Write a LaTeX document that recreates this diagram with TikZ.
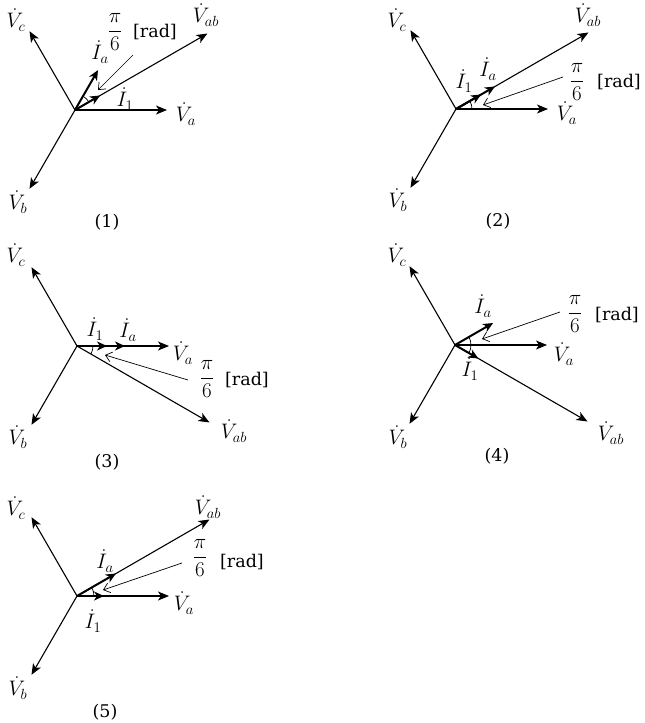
\RequirePackage{fix-cm}
\documentclass[tikz,border=0pt]{standalone}
\usepackage{fontspec}
\newfontfamily\dvserif{DejaVu Serif}
\usetikzlibrary{arrows.meta}
\begin{document}
\begin{tikzpicture}[x=1pt,y=1pt,
  vec/.style={line width=1.1pt,-{Stealth[length=11pt,width=9pt,inset=3pt]}},
  cur/.style={line width=2pt,-{Stealth[length=10pt,width=9pt,inset=3pt]}},
  note/.style={line width=0.7pt,-{Straight Barb[length=6pt,width=10pt]}},
  ang/.style={line width=0.7pt},
  lab/.style={inner sep=0pt,font=\fontsize{21}{25}\selectfont},
  txt/.style={inner sep=0pt,font=\dvserif\fontsize{17.5}{21}\selectfont},
]
\useasboundingbox (0,0) rectangle (645,-723);

% ---------- Panel 1 ----------
\coordinate (O1) at (75,-110);
\path (O1) ++(0:92) coordinate (Va1);
\path (O1) ++(120:91) coordinate (Vc1);
\path (O1) ++(240:91) coordinate (Vb1);
\path (O1) ++(30:153) coordinate (Vab1);
\path (O1) ++(60:46) coordinate (Ia1);
\path (O1) ++(30:29) coordinate (Ione1);
\coordinate (n1s) at (133,-55);
\coordinate (n1e) at (98,-90);
\draw[vec] (O1) -- (Va1);
\draw[vec] (O1) -- (Vc1);
\draw[vec] (O1) -- (Vb1);
\draw[vec] (O1) -- (Vab1);
\draw[cur] (O1) -- (Ia1);
\draw[cur] (O1) -- (Ione1);
\draw[ang] (O1) ++(30:16) arc[start angle=30,end angle=60,radius=16];
\draw[note] (n1s) -- (n1e);
\node[lab] (lVc1) at (16,-20) {$\dot{V}_c$};
\node[lab] (lVab1) at (206,-15) {$\dot{V}_{ab}$};
\node[lab] (lf1) at (115,-32) {$\displaystyle\frac{\pi}{6}$};
\node[txt] (lr1) at (155,-32) {[rad]};
\node[lab] (lIa1) at (100,-52) {$\dot{I}_a$};
\node[lab] (lI11) at (125,-99) {$\dot{I}_1$};
\node[lab] (lVa1) at (186,-114) {$\dot{V}_a$};
\node[lab] (lVb1) at (18,-202) {$\dot{V}_b$};
\node[txt] (lc1) at (107,-222) {(1)};

% ---------- Panel 2 ----------
\coordinate (O2) at (456,-109);
\path (O2) ++(0:92) coordinate (Va2);
\path (O2) ++(120:91) coordinate (Vc2);
\path (O2) ++(240:91) coordinate (Vb2);
\path (O2) ++(30:153) coordinate (Vab2);
\path (O2) ++(30:45) coordinate (Ia2);
\path (O2) ++(30:29) coordinate (Ione2);
\coordinate (n2s) at (563,-77);
\coordinate (n2e) at (483,-105);
\draw[vec] (O2) -- (Va2);
\draw[vec] (O2) -- (Vc2);
\draw[vec] (O2) -- (Vb2);
\draw[vec] (O2) -- (Vab2);
\draw[cur] (O2) -- (Ia2);
\draw[cur] (O2) -- (Ione2);
\draw[ang] (O2) ++(0:16) arc[start angle=0,end angle=30,radius=16];
\draw[note] (n2s) -- (n2e);
\node[lab] (lVc2) at (397,-20) {$\dot{V}_c$};
\node[lab] (lVab2) at (588,-15) {$\dot{V}_{ab}$};
\node[lab] (lIa2) at (488,-69) {$\dot{I}_a$};
\node[lab] (lI12) at (464,-81) {$\dot{I}_1$};
\node[lab] (lf2) at (577,-82) {$\displaystyle\frac{\pi}{6}$};
\node[txt] (lr2) at (619,-82) {[rad]};
\node[lab] (lVa2) at (567,-113) {$\dot{V}_a$};
\node[lab] (lVb2) at (398,-200) {$\dot{V}_b$};
\node[txt] (lc2) at (498,-221) {(2)};

% ---------- Panel 3 ----------
\coordinate (O3) at (77,-346);
\path (O3) ++(0:92) coordinate (Va3);
\path (O3) ++(120:91) coordinate (Vc3);
\path (O3) ++(240:91) coordinate (Vb3);
\path (O3) ++(-30:153) coordinate (Vab3);
\path (O3) ++(0:48) coordinate (Ia3);
\path (O3) ++(0:30) coordinate (Ione3);
\coordinate (n3s) at (188,-380);
\coordinate (n3e) at (105,-355);
\draw[vec] (O3) -- (Va3);
\draw[vec] (O3) -- (Vc3);
\draw[vec] (O3) -- (Vb3);
\draw[vec] (O3) -- (Vab3);
\draw[cur] (O3) -- (Ia3);
\draw[cur] (O3) -- (Ione3);
\draw[ang] (O3) ++(-30:16) arc[start angle=-30,end angle=0,radius=16];
\draw[note] (n3s) -- (n3e);
\node[lab] (lVc3) at (16,-255) {$\dot{V}_c$};
\node[lab] (lI13) at (95,-329) {$\dot{I}_1$};
\node[lab] (lIa3) at (128,-330) {$\dot{I}_a$};
\node[lab] (lVa3) at (183,-353) {$\dot{V}_a$};
\node[lab] (lf3) at (207,-379) {$\displaystyle\frac{\pi}{6}$};
\node[txt] (lr3) at (247,-380) {[rad]};
\node[lab] (lVab3) at (234,-431) {$\dot{V}_{ab}$};
\node[lab] (lVb3) at (18,-437) {$\dot{V}_b$};
\node[txt] (lc3) at (107,-462) {(3)};

% ---------- Panel 4 ----------
\coordinate (O4) at (455,-345);
\path (O4) ++(0:92) coordinate (Va4);
\path (O4) ++(120:91) coordinate (Vc4);
\path (O4) ++(240:91) coordinate (Vb4);
\path (O4) ++(-30:153) coordinate (Vab4);
\path (O4) ++(30:44) coordinate (Ia4);
\path (O4) ++(-30:27) coordinate (Ione4);
\coordinate (n4s) at (560,-312);
\coordinate (n4e) at (482,-339);
\draw[vec] (O4) -- (Va4);
\draw[vec] (O4) -- (Vc4);
\draw[vec] (O4) -- (Vb4);
\draw[vec] (O4) -- (Vab4);
\draw[cur] (O4) -- (Ia4);
\draw[cur] (O4) -- (Ione4);
\draw[ang] (O4) ++(-30:16) arc[start angle=-30,end angle=30,radius=16];
\draw[note] (n4s) -- (n4e);
\node[lab] (lVc4) at (397,-255) {$\dot{V}_c$};
\node[lab] (lIa4) at (483,-306) {$\dot{I}_a$};
\node[lab] (lf4) at (575,-314) {$\displaystyle\frac{\pi}{6}$};
\node[txt] (lr4) at (617,-315) {[rad]};
\node[lab] (lVa4) at (564,-354) {$\dot{V}_a$};
\node[lab] (lI14) at (470,-369) {$\dot{I}_1$};
\node[lab] (lVab4) at (611,-433) {$\dot{V}_{ab}$};
\node[lab] (lVb4) at (398,-437) {$\dot{V}_b$};
\node[txt] (lc4) at (497,-456) {(4)};

% ---------- Panel 5 ----------
\coordinate (O5) at (77,-596);
\path (O5) ++(0:92) coordinate (Va5);
\path (O5) ++(120:91) coordinate (Vc5);
\path (O5) ++(240:91) coordinate (Vb5);
\path (O5) ++(30:153) coordinate (Vab5);
\path (O5) ++(30:45) coordinate (Ia5);
\path (O5) ++(0:27) coordinate (Ione5);
\coordinate (n5s) at (182,-563);
\coordinate (n5e) at (103,-590);
\draw[vec] (O5) -- (Va5);
\draw[vec] (O5) -- (Vc5);
\draw[vec] (O5) -- (Vb5);
\draw[vec] (O5) -- (Vab5);
\draw[cur] (O5) -- (Ia5);
\draw[cur] (O5) -- (Ione5);
\draw[ang] (O5) ++(0:17) arc[start angle=0,end angle=30,radius=17];
\draw[note] (n5s) -- (n5e);
\node[lab] (lVc5) at (16,-508) {$\dot{V}_c$};
\node[lab] (lVab5) at (208,-507) {$\dot{V}_{ab}$};
\node[lab] (lIa5) at (105,-561) {$\dot{I}_a$};
\node[lab] (lf5) at (200,-558) {$\displaystyle\frac{\pi}{6}$};
\node[txt] (lr5) at (242,-562) {[rad]};
\node[lab] (lVa5) at (184,-603) {$\dot{V}_a$};
\node[lab] (lI15) at (93,-621) {$\dot{I}_1$};
\node[lab] (lVb5) at (18,-688) {$\dot{V}_b$};
\node[txt] (lc5) at (105,-712) {(5)};
\end{tikzpicture}
\end{document}
